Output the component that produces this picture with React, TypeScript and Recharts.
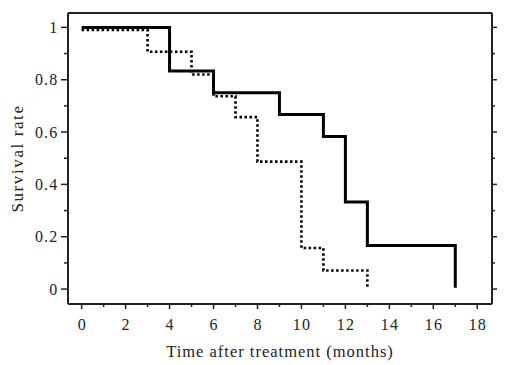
import { Line, LineChart, XAxis, YAxis } from "recharts";

// months where the survival estimate changes, and the estimate from then on
const groupAMonths = [0, 4, 6, 9, 11, 12, 13, 17];
const groupARate = [1, 0.833, 0.75, 0.667, 0.583, 0.333, 0.167, 0.005];

const groupBMonths = [0, 3, 5, 6, 7, 8, 10, 11, 13];
const groupBRate = [0.99, 0.907, 0.82, 0.737, 0.657, 0.487, 0.157, 0.071, 0];

const xTicks = [0, 1, 2, 3, 4, 5, 6, 7, 8, 9, 10, 11, 12, 13, 14, 15, 16, 17, 18];
const yTicks = [0, 0.1, 0.2, 0.3, 0.4, 0.5, 0.6, 0.7, 0.8, 0.9, 1];

const groupA = groupAMonths.map((t, i) => ({ t, rate: groupARate[i] }));
const groupB = groupBMonths.map((t, i) => ({ t, rate: groupBRate[i] }));

const ink = "#222";
const font = "'Liberation Serif', 'Times New Roman', serif";

const isMajorX = (v: number) => v % 2 === 0;
const isMajorY = (v: number) => Math.round(v * 10) % 2 === 0;

function BottomTick({ x, y, payload }: any) {
  const major = isMajorX(payload.value);
  return (
    <g>
      <line x1={x} x2={x} y1={y} y2={y + (major ? 5 : 3)} stroke={ink} strokeWidth={1.5} />
      {major && (
        <text x={x + 0.6} y={y + 26} textAnchor="middle" fontSize={16} letterSpacing={1.2} fill={ink} fontFamily={font}>
          {payload.value}
        </text>
      )}
    </g>
  );
}

function TopTick({ x, y, payload }: any) {
  const major = isMajorX(payload.value);
  return <line x1={x} x2={x} y1={y} y2={y - (major ? 5 : 3)} stroke={ink} strokeWidth={1.5} />;
}

function LeftTick({ x, y, payload }: any) {
  const major = isMajorY(payload.value);
  const label = Math.round(payload.value * 10) / 10;
  return (
    <g>
      <line x1={x} x2={x - (major ? 7 : 4)} y1={y} y2={y} stroke={ink} strokeWidth={1.5} />
      {major && (
        <text x={x - 9.5} y={y + 5.5} textAnchor="end" fontSize={16} letterSpacing={1.2} fill={ink} fontFamily={font}>
          {String(label)}
        </text>
      )}
    </g>
  );
}

function RightTick({ x, y, payload }: any) {
  const major = isMajorY(payload.value);
  return <line x1={x} x2={x + (major ? 5 : 3)} y1={y} y2={y} stroke={ink} strokeWidth={1.5} />;
}

function YTitle({ viewBox }: any) {
  const cx = viewBox.x + 15;
  const cy = viewBox.y + viewBox.height / 2;
  return (
    <text x={cx} y={cy} transform={`rotate(-90 ${cx} ${cy})`} textAnchor="middle" fontSize={17} letterSpacing={1.6} fill={ink} fontFamily={font}>
      Survival rate
    </text>
  );
}

function XTitle({ viewBox }: any) {
  const cx = viewBox.x + viewBox.width / 2;
  return (
    <text x={cx} y={viewBox.y + 52.5} textAnchor="middle" fontSize={16.5} letterSpacing={1} fill={ink} fontFamily={font}>
      Time after treatment (months)
    </text>
  );
}

export default function App() {
  const xDomain = [-0.62, 18.67];
  const yDomain = [-0.057, 1.055];
  return (
    <div style={{ position: "fixed", left: 0, top: 0, background: "#fff" }}>
      <LineChart width={509} height={365} margin={{ top: 0, right: 0, bottom: 11, left: 8 }}>
        <XAxis
          xAxisId="bottom"
          type="number"
          dataKey="t"
          domain={xDomain}
          allowDataOverflow
          ticks={xTicks}
          interval={0}
          height={50}
          tickSize={0}
          tickMargin={0}
          tickLine={false}
          axisLine={{ stroke: ink, strokeWidth: 2 }}
          tick={(p: any) => <BottomTick {...p} />}
          label={(p: any) => <XTitle {...p} />}
        />
        <XAxis
          xAxisId="top"
          orientation="top"
          type="number"
          domain={xDomain}
          allowDataOverflow
          ticks={xTicks}
          interval={0}
          height={13}
          tickSize={0}
          tickMargin={0}
          tickLine={false}
          axisLine={{ stroke: ink, strokeWidth: 2 }}
          tick={(p: any) => <TopTick {...p} />}
        />
        <YAxis
          yAxisId="left"
          type="number"
          domain={yDomain}
          allowDataOverflow
          ticks={yTicks}
          interval={0}
          width={60}
          tickSize={0}
          tickMargin={0}
          tickLine={false}
          axisLine={{ stroke: ink, strokeWidth: 2 }}
          tick={(p: any) => <LeftTick {...p} />}
          label={(p: any) => <YTitle {...p} />}
        />
        <YAxis
          yAxisId="right"
          orientation="right"
          type="number"
          domain={yDomain}
          allowDataOverflow
          ticks={yTicks}
          interval={0}
          width={17}
          tickSize={0}
          tickMargin={0}
          tickLine={false}
          axisLine={{ stroke: ink, strokeWidth: 2 }}
          tick={(p: any) => <RightTick {...p} />}
        />
        <Line
          xAxisId="bottom"
          yAxisId="left"
          data={groupB}
          dataKey="rate"
          type="stepAfter"
          stroke="#000"
          strokeWidth={2.6}
          strokeDasharray="2.5 2.5"
          dot={false}
          isAnimationActive={false}
        />
        <Line
          xAxisId="bottom"
          yAxisId="left"
          data={groupA}
          dataKey="rate"
          type="stepAfter"
          stroke="#000"
          strokeWidth={3}
          dot={false}
          isAnimationActive={false}
        />
      </LineChart>
    </div>
  );
}
